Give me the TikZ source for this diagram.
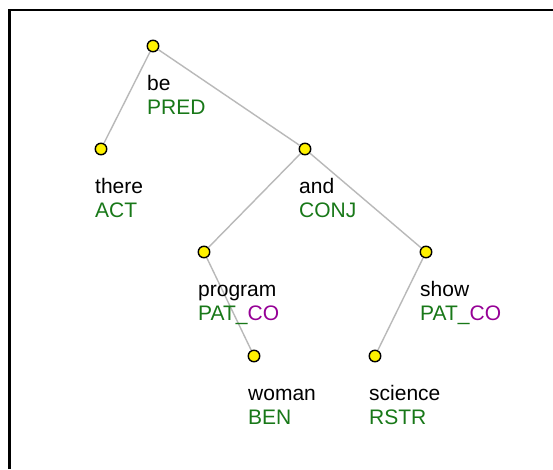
\documentclass[tikz,border=0pt]{standalone}
\usepackage{fontspec}
\setmainfont{Liberation Sans}
\definecolor{fgreen}{RGB}{24,120,24}
\definecolor{fpurple}{RGB}{150,0,150}
\definecolor{edgegray}{RGB}{185,185,185}
\begin{document}
\begin{tikzpicture}[x=1pt,y=-1pt,
  tnode/.style={circle,draw=black,fill=yellow,line width=1.4pt,minimum size=11.5pt,inner sep=0pt},
  word/.style={anchor=base west,inner sep=0pt,font=\fontsize{21}{24}\selectfont,text=black},
  func/.style={anchor=base west,inner sep=0pt,font=\fontsize{21}{24}\selectfont,text=fgreen},
  edge/.style={draw=edgegray,line width=1.4pt}]
\useasboundingbox (0,0) rectangle (553,469);
\fill[white] (0,0) rectangle (553,469);
\draw[line width=2.8pt] (9.5,469) -- (9.5,10) -- (553,10);
% nodes
\node[tnode] (be) at (153,46) {};
\node[tnode] (there) at (101,149) {};
\node[tnode] (and) at (305,149) {};
\node[tnode] (program) at (204,252) {};
\node[tnode] (show) at (426,252) {};
\node[tnode] (woman) at (254,356) {};
\node[tnode] (science) at (375,356) {};
% edges
\draw[edge] (be) -- (there);
\draw[edge] (be) -- (and);
\draw[edge] (and) -- (program);
\draw[edge] (and) -- (show);
\draw[edge] (program) -- (woman);
\draw[edge] (show) -- (science);
% labels
\node[word] (be-w) at (147,90) {be};
\node[func] (be-f) at (147,114) {PRED};
\node[word] (there-w) at (95,193) {there};
\node[func] (there-f) at (95,217) {ACT};
\node[word] (and-w) at (299,193) {and};
\node[func] (and-f) at (299,217) {CONJ};
\node[word] (program-w) at (198,296) {program};
\node[func] (program-f) at (198,320) {PAT\_\textcolor{fpurple}{CO}};
\node[word] (show-w) at (420,296) {show};
\node[func] (show-f) at (420,320) {PAT\_\textcolor{fpurple}{CO}};
\node[word] (woman-w) at (248,400) {woman};
\node[func] (woman-f) at (248,424) {BEN};
\node[word] (science-w) at (369,400) {science};
\node[func] (science-f) at (369,424) {RSTR};
\end{tikzpicture}
\end{document}
